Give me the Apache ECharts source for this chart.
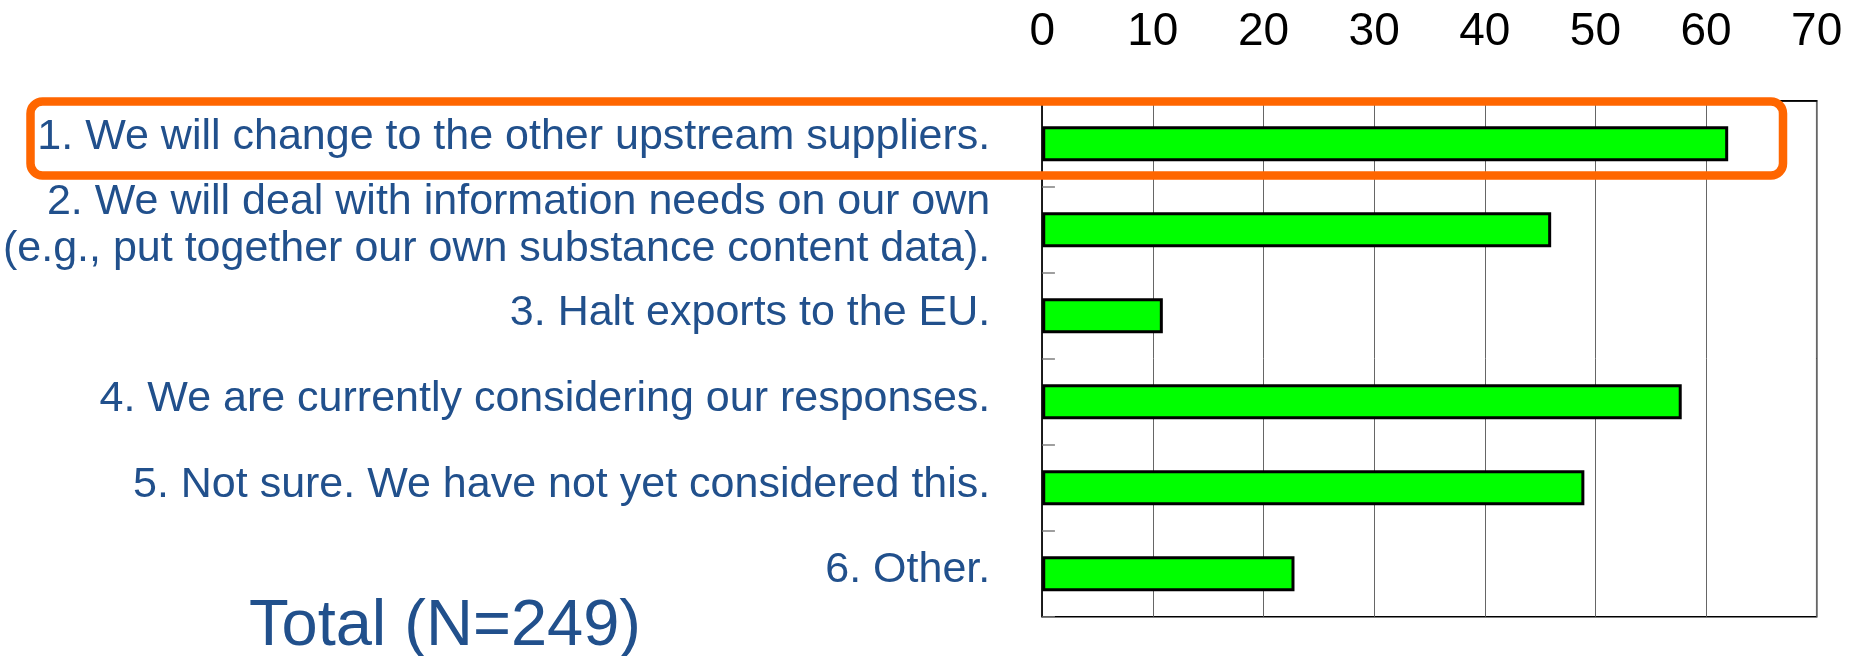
<!DOCTYPE html>
<html>
<head>
<meta charset="utf-8">
<script src="https://cdn.jsdelivr.net/npm/echarts@6/dist/echarts.min.js"></script>
<style>
html,body{margin:0;padding:0;background:#fff;}
#chart{width:1852px;height:656px;}
</style>
</head>
<body>
<div id="chart"></div>
<script>
const categories = [
  '1. We will change to the other upstream suppliers.',
  '2. We will deal with information needs on our own\n(e.g., put together our own substance content data).',
  '3. Halt exports to the EU.',
  '4. We are currently considering our responses.',
  '5. Not sure. We have not yet considered this.',
  '6. Other.'
];
const values = [62.0, 46.0, 10.9, 57.8, 49.0, 22.8];
const xTicks = [0, 10, 20, 30, 40, 50, 60, 70];
const totalLabel = 'Total (N=249)';
const labelLift = [14, 9, 6, 6, 6, 8];

const chart = echarts.init(document.getElementById('chart'), null, {renderer: 'canvas'});
const blue = '#21508c';
const rich = {
  t: {fontSize: 43, lineHeight: 47, color: blue, fontFamily: '"Liberation Sans", Arial, sans-serif'}
};
labelLift.forEach((h, i) => { rich['s' + i] = {fontSize: 1, lineHeight: h}; });

chart.setOption({
  animation: false,
  backgroundColor: '#fff',
  grid: {
    left: 1042, right: 35.3, top: 100.7, bottom: 39.3,
    show: true, borderColor: '#000', borderWidth: 1.5, backgroundColor: 'transparent'
  },
  xAxis: {
    type: 'value', position: 'top',
    min: xTicks[0], max: xTicks[xTicks.length - 1], interval: 10,
    axisLine: {show: true, lineStyle: {color: '#000', width: 1.5}},
    axisTick: {show: false},
    splitLine: {show: true, lineStyle: {color: '#666', width: 1}},
    axisLabel: {
      margin: 45, color: '#000',
      fontFamily: '"Liberation Sans Narrow", "Liberation Sans", Arial, sans-serif',
      fontSize: 46
    }
  },
  yAxis: {
    type: 'category', inverse: true, data: categories,
    axisLine: {show: true, lineStyle: {color: '#000', width: 1.5}},
    axisTick: {show: true, inside: true, length: 12.7, lineStyle: {color: '#808080', width: 1.5}},
    splitLine: {show: false},
    axisLabel: {
      interval: 0, margin: 52, color: blue,
      fontFamily: '"Liberation Sans", Arial, sans-serif',
      fontSize: 43, lineHeight: 47, align: 'right',
      formatter: function (v, i) {
        return v.split('\n').map(l => '{t|' + l + '}').join('\n') + '\n{s' + i + '| }';
      },
      rich: rich
    }
  },
  series: [{
    type: 'bar',
    data: values,
    barWidth: 35,
    itemStyle: {color: '#00ff00', borderColor: '#000', borderWidth: 3}
  }],
  graphic: [
    {
      type: 'rect', z: 100,
      shape: {x: 30.5, y: 101.5, width: 1752.5, height: 74, r: 12},
      style: {fill: 'none', stroke: '#ff6600', lineWidth: 8.5}
    },
    {
      type: 'text', z: 100,
      style: {
        text: totalLabel, x: 445, y: 627, align: 'center', verticalAlign: 'middle',
        fill: blue, font: '65px "Liberation Sans", Arial, sans-serif'
      }
    }
  ]
});
</script>
</body>
</html>
